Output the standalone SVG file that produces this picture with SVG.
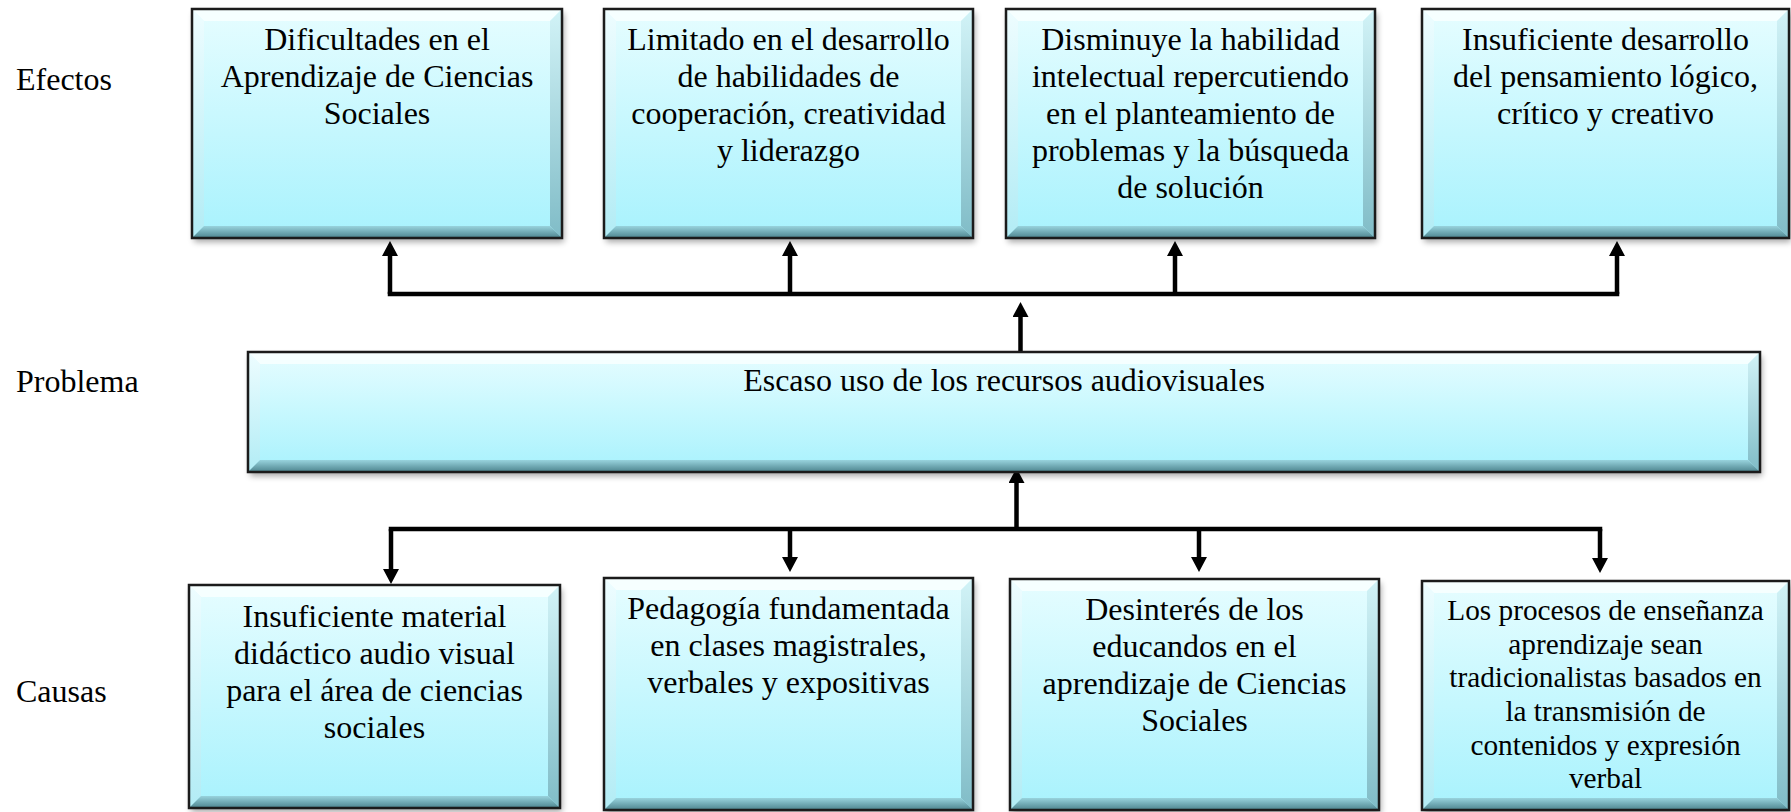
<svg xmlns="http://www.w3.org/2000/svg" width="1791" height="812" viewBox="0 0 1791 812">
<style>
.t{font-family:"Liberation Serif","Times New Roman",serif;font-size:32px;fill:#000;text-anchor:middle}
.lbl{text-anchor:start}
.sm{font-size:29.3px}
.face{fill:url(#gFace)}
.bt{fill:#f7ffff;opacity:.9}
.bl{fill:url(#gL)}
.br{fill:url(#gR)}
.bb{fill:url(#gB)}
.edge{fill:none;stroke:#1b1b1b;stroke-width:2.5}
.shadow{fill:#000;opacity:.35;filter:url(#blur)}
.con{fill:none;stroke:#000;stroke-width:4.5}
.arr{marker-end:url(#ah)}
</style>
<defs>
<linearGradient id="gFace" x1="0" y1="0" x2="0" y2="1">
<stop offset="0" stop-color="#e6fdff"/>
<stop offset="1" stop-color="#a8f2fd"/>
</linearGradient>
<linearGradient id="gL" x1="0" y1="0" x2="0" y2="1">
<stop offset="0" stop-color="#eefdff"/>
<stop offset="1" stop-color="#b2ecf5"/>
</linearGradient>
<linearGradient id="gR" x1="0" y1="0" x2="0" y2="1">
<stop offset="0" stop-color="#d2f3f7"/>
<stop offset="1" stop-color="#80bcc7"/>
</linearGradient>
<linearGradient id="gB" x1="0" y1="0" x2="0" y2="1">
<stop offset="0" stop-color="#98d3dd"/>
<stop offset="1" stop-color="#4c838d"/>
</linearGradient>
<filter id="blur" x="-5%" y="-10%" width="110%" height="120%">
<feGaussianBlur stdDeviation="3"/>
</filter>
<marker id="ah" viewBox="0 0 15 16" refX="0" refY="8" markerWidth="15" markerHeight="16" markerUnits="userSpaceOnUse" orient="auto">
<path d="M0,0 L15,8 L0,16 Z" fill="#000"/>
</marker>
</defs>

<g id="labels">
<text class="t lbl" x="16" y="90">Efectos</text>
<text class="t lbl" x="16" y="392">Problema</text>
<text class="t lbl" x="16" y="702">Causas</text>
</g>

<g id="connectors">
<path class="con" d="M390,294 H1617" stroke-linecap="square"/>
<path class="con arr" d="M390,294 V256"/>
<path class="con arr" d="M790,294 V256"/>
<path class="con arr" d="M1175,294 V256"/>
<path class="con arr" d="M1617,294 V256"/>
<path class="con arr" d="M1020.5,352 V317"/>
<path class="con arr" d="M1016.5,529 V483"/>
<path class="con" d="M391,529 H1600" stroke-linecap="square"/>
<path class="con arr" d="M391,529 V569"/>
<path class="con arr" d="M790,529 V557"/>
<path class="con arr" d="M1199,529 V557"/>
<path class="con arr" d="M1600,529 V558"/>
</g>

<g id="efecto1">
<rect class="shadow" x="194" y="13" width="370" height="229"/>
<rect class="face" x="192" y="9" width="370" height="229"/>
<polygon class="bt" points="192,9 562,9 550,21 204,21"/>
<polygon class="bl" points="192,9 204,21 204,226 192,238"/>
<polygon class="br" points="562,9 550,21 550,226 562,238"/>
<polygon class="bb" points="192,238 562,238 550,226 204,226"/>
<rect class="edge" x="192" y="9" width="370" height="229"/>
<text class="t" x="377" y="50">Dificultades en el</text>
<text class="t" x="377" y="87">Aprendizaje de Ciencias</text>
<text class="t" x="377" y="124">Sociales</text>
</g>

<g id="efecto2">
<rect class="shadow" x="606" y="13" width="369" height="229"/>
<rect class="face" x="604" y="9" width="369" height="229"/>
<polygon class="bt" points="604,9 973,9 961,21 616,21"/>
<polygon class="bl" points="604,9 616,21 616,226 604,238"/>
<polygon class="br" points="973,9 961,21 961,226 973,238"/>
<polygon class="bb" points="604,238 973,238 961,226 616,226"/>
<rect class="edge" x="604" y="9" width="369" height="229"/>
<text class="t" x="788.5" y="50">Limitado en el desarrollo</text>
<text class="t" x="788.5" y="87">de habilidades de</text>
<text class="t" x="788.5" y="124">cooperación, creatividad</text>
<text class="t" x="788.5" y="161">y liderazgo</text>
</g>

<g id="efecto3">
<rect class="shadow" x="1008" y="13" width="369" height="229"/>
<rect class="face" x="1006" y="9" width="369" height="229"/>
<polygon class="bt" points="1006,9 1375,9 1363,21 1018,21"/>
<polygon class="bl" points="1006,9 1018,21 1018,226 1006,238"/>
<polygon class="br" points="1375,9 1363,21 1363,226 1375,238"/>
<polygon class="bb" points="1006,238 1375,238 1363,226 1018,226"/>
<rect class="edge" x="1006" y="9" width="369" height="229"/>
<text class="t" x="1190.5" y="50">Disminuye la habilidad</text>
<text class="t" x="1190.5" y="87">intelectual repercutiendo</text>
<text class="t" x="1190.5" y="124">en el planteamiento de</text>
<text class="t" x="1190.5" y="161">problemas y la búsqueda</text>
<text class="t" x="1190.5" y="198">de solución</text>
</g>

<g id="efecto4">
<rect class="shadow" x="1424" y="13" width="367" height="229"/>
<rect class="face" x="1422" y="9" width="367" height="229"/>
<polygon class="bt" points="1422,9 1789,9 1777,21 1434,21"/>
<polygon class="bl" points="1422,9 1434,21 1434,226 1422,238"/>
<polygon class="br" points="1789,9 1777,21 1777,226 1789,238"/>
<polygon class="bb" points="1422,238 1789,238 1777,226 1434,226"/>
<rect class="edge" x="1422" y="9" width="367" height="229"/>
<text class="t" x="1605.5" y="50">Insuficiente desarrollo</text>
<text class="t" x="1605.5" y="87">del pensamiento lógico,</text>
<text class="t" x="1605.5" y="124">crítico y creativo</text>
</g>

<g id="problema">
<rect class="shadow" x="250" y="356" width="1512" height="120"/>
<rect class="face" x="248" y="352" width="1512" height="120"/>
<polygon class="bt" points="248,352 1760,352 1748,364 260,364"/>
<polygon class="bl" points="248,352 260,364 260,460 248,472"/>
<polygon class="br" points="1760,352 1748,364 1748,460 1760,472"/>
<polygon class="bb" points="248,472 1760,472 1748,460 260,460"/>
<rect class="edge" x="248" y="352" width="1512" height="120"/>
<text class="t" x="1004" y="391">Escaso uso de los recursos audiovisuales</text>
</g>

<g id="causa1">
<rect class="shadow" x="191" y="589" width="371" height="223"/>
<rect class="face" x="189" y="585" width="371" height="223"/>
<polygon class="bt" points="189,585 560,585 548,597 201,597"/>
<polygon class="bl" points="189,585 201,597 201,796 189,808"/>
<polygon class="br" points="560,585 548,597 548,796 560,808"/>
<polygon class="bb" points="189,808 560,808 548,796 201,796"/>
<rect class="edge" x="189" y="585" width="371" height="223"/>
<text class="t" x="374.5" y="627">Insuficiente material</text>
<text class="t" x="374.5" y="664">didáctico audio visual</text>
<text class="t" x="374.5" y="701">para el área de ciencias</text>
<text class="t" x="374.5" y="738">sociales</text>
</g>

<g id="causa2">
<rect class="shadow" x="606" y="582" width="369" height="232"/>
<rect class="face" x="604" y="578" width="369" height="232"/>
<polygon class="bt" points="604,578 973,578 961,590 616,590"/>
<polygon class="bl" points="604,578 616,590 616,798 604,810"/>
<polygon class="br" points="973,578 961,590 961,798 973,810"/>
<polygon class="bb" points="604,810 973,810 961,798 616,798"/>
<rect class="edge" x="604" y="578" width="369" height="232"/>
<text class="t" x="788.5" y="619">Pedagogía fundamentada</text>
<text class="t" x="788.5" y="656">en clases magistrales,</text>
<text class="t" x="788.5" y="693">verbales y expositivas</text>
</g>

<g id="causa3">
<rect class="shadow" x="1012" y="583" width="369" height="231"/>
<rect class="face" x="1010" y="579" width="369" height="231"/>
<polygon class="bt" points="1010,579 1379,579 1367,591 1022,591"/>
<polygon class="bl" points="1010,579 1022,591 1022,798 1010,810"/>
<polygon class="br" points="1379,579 1367,591 1367,798 1379,810"/>
<polygon class="bb" points="1010,810 1379,810 1367,798 1022,798"/>
<rect class="edge" x="1010" y="579" width="369" height="231"/>
<text class="t" x="1194.5" y="620">Desinterés de los</text>
<text class="t" x="1194.5" y="657">educandos en el</text>
<text class="t" x="1194.5" y="694">aprendizaje de Ciencias</text>
<text class="t" x="1194.5" y="731">Sociales</text>
</g>

<g id="causa4">
<rect class="shadow" x="1424" y="585" width="367" height="229"/>
<rect class="face" x="1422" y="581" width="367" height="229"/>
<polygon class="bt" points="1422,581 1789,581 1777,593 1434,593"/>
<polygon class="bl" points="1422,581 1434,593 1434,798 1422,810"/>
<polygon class="br" points="1789,581 1777,593 1777,798 1789,810"/>
<polygon class="bb" points="1422,810 1789,810 1777,798 1434,798"/>
<rect class="edge" x="1422" y="581" width="367" height="229"/>
<text class="t sm" x="1605.5" y="620">Los procesos de enseñanza</text>
<text class="t sm" x="1605.5" y="653.5">aprendizaje sean</text>
<text class="t sm" x="1605.5" y="687">tradicionalistas basados en</text>
<text class="t sm" x="1605.5" y="721">la transmisión de</text>
<text class="t sm" x="1605.5" y="754.5">contenidos y expresión</text>
<text class="t sm" x="1605.5" y="788">verbal</text>
</g>
</svg>
